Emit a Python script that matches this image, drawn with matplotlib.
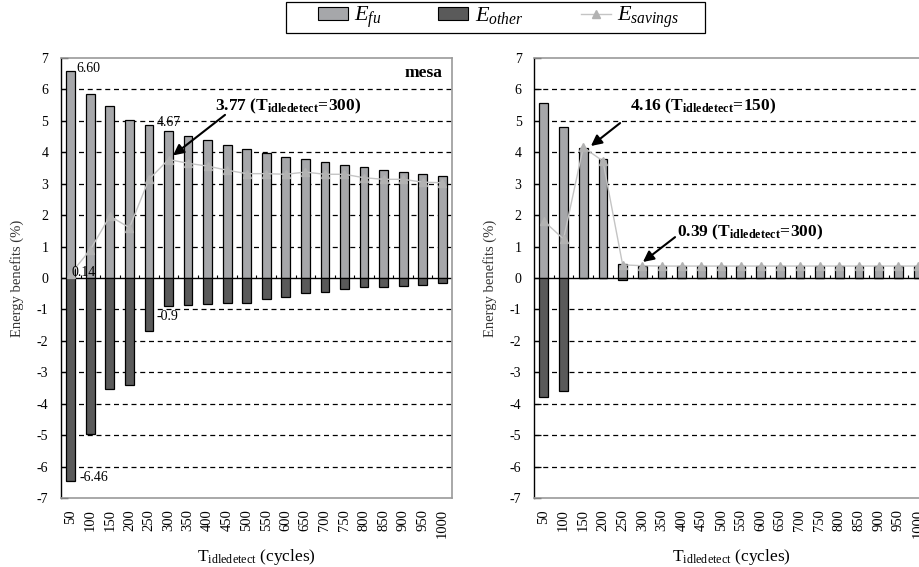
import matplotlib
matplotlib.use("Agg")
import matplotlib.pyplot as plt
from matplotlib.patches import Patch, Rectangle
from matplotlib.lines import Line2D
import numpy as np

plt.rcParams['font.family'] = ['Liberation Serif', 'DejaVu Serif']
plt.rcParams['mathtext.fontset'] = 'custom'
plt.rcParams['mathtext.rm'] = 'Liberation Serif'
plt.rcParams['mathtext.it'] = 'Liberation Serif:italic'
plt.rcParams['mathtext.bf'] = 'Liberation Serif:bold'

# Idle-detect threshold (cycles)
t_idle = [50, 100, 150, 200, 250, 300, 350, 400, 450, 500,
          550, 600, 650, 700, 750, 800, 850, 900, 950, 1000]

# mesa
mesa_fu = [6.60, 5.85, 5.48, 5.03, 4.86, 4.67, 4.52, 4.40, 4.23, 4.12,
           3.99, 3.86, 3.78, 3.69, 3.61, 3.53, 3.45, 3.36, 3.32, 3.24]
mesa_other = [-6.46, -4.95, -3.53, -3.40, -1.70, -0.90, -0.87, -0.83, -0.80, -0.80,
              -0.67, -0.59, -0.47, -0.43, -0.34, -0.30, -0.30, -0.26, -0.21, -0.17]
mesa_savings = [0.14, 0.90, 1.97, 1.60, 3.14, 3.77, 3.65, 3.56, 3.43, 3.32,
                3.32, 3.30, 3.37, 3.30, 3.30, 3.19, 3.14, 3.14, 3.05, 3.03]

# second benchmark
bench_fu = [5.56, 4.81, 4.15, 3.80, 0.46, 0.39, 0.39, 0.39, 0.39, 0.39,
            0.39, 0.39, 0.39, 0.39, 0.39, 0.39, 0.39, 0.39, 0.39, 0.39]
bench_other = [-3.78, -3.59, 0.0, 0.0, -0.05, 0.0, 0.0, 0.0, 0.0, 0.0,
               0.0, 0.0, 0.0, 0.0, 0.0, 0.0, 0.0, 0.0, 0.0, 0.0]
bench_savings = [1.81, 1.24, 4.16, 3.72, 0.42, 0.39, 0.38, 0.38, 0.38, 0.38,
                 0.38, 0.38, 0.38, 0.38, 0.38, 0.38, 0.38, 0.38, 0.38, 0.38]

y_ticks = list(range(-7, 8))

C_FU = '#a6a7aa'
C_OTHER = '#5a5a5a'
C_LINE = '#c4c4c4'
C_MARK = '#b2b2b2'
C_SPINE = '#9a9a9a'

fig = plt.figure(figsize=(9.19, 5.67), dpi=100)
ax1 = fig.add_axes([61 / 919, 1 - 498 / 567, (452 - 61) / 919, (498 - 58) / 567])
ax2 = fig.add_axes([534 / 919, 1 - 498 / 567, (928 - 534) / 919, (498 - 58) / 567])

xlabel = r'T$_{\mathrm{idledetect}}$ (cycles)'


def draw_panel(ax, fu, other, savings):
    x = np.arange(len(t_idle))
    for yv in y_ticks:
        if yv not in (0, -7, 7):
            ax.axhline(yv, color='black', lw=0.9, ls=(0, (4, 3)), zorder=1)
    ax.bar(x, fu, width=0.45, color=C_FU, edgecolor='black', lw=0.9, zorder=3)
    ax.bar(x, other, width=0.45, color=C_OTHER, edgecolor='black', lw=0.9, zorder=3)
    ax.axhline(0, color='black', lw=1.0, zorder=2.5)
    ax.vlines(x[:-1] + 0.5, 0, 0.11, color='black', lw=0.8, zorder=2.5)
    ax.plot(x, savings, color=C_LINE, lw=1.0, marker='^', ms=6,
            mfc=C_MARK, mec=C_MARK, zorder=4)
    ax.set_xlim(-0.5, len(t_idle) - 0.5)
    ax.set_ylim(-7, 7)
    ax.set_yticks(y_ticks)
    ax.set_yticklabels([str(v) for v in y_ticks], fontsize=10)
    ax.set_xticks(x)
    ax.set_xticklabels([str(v) for v in t_idle], rotation=90, fontsize=10.5)
    ax.tick_params(axis='x', length=0, pad=8)
    ax.tick_params(axis='y', direction='in', length=5, width=0.9, pad=9, color='black')
    for s in ('top', 'right', 'bottom'):
        ax.spines[s].set_color(C_SPINE)
        ax.spines[s].set_linewidth(1.2)
    ax.spines['left'].set_color('black')
    ax.spines['left'].set_linewidth(1.0)
    ax.set_ylabel('Energy benefits (%)', fontsize=10.5, color='#333333', labelpad=9)
    ax.set_xlabel(xlabel, fontsize=12.5, labelpad=6)


def arrow(ax, start, end):
    ax.annotate('', xy=end, xytext=start, zorder=6,
                arrowprops=dict(arrowstyle='-|>', color='black', lw=1.5,
                                mutation_scale=16, shrinkA=0, shrinkB=0))


draw_panel(ax1, mesa_fu, mesa_other, mesa_savings)
draw_panel(ax2, bench_fu, bench_other, bench_savings)

# mesa annotations
ax1.text(0.3, mesa_fu[0] + 0.05, f'{mesa_fu[0]:.2f}', fontsize=10, va='center', ha='left', zorder=6)
ax1.text(0.06, mesa_savings[0] + 0.05, f'{mesa_savings[0]:.2f}', fontsize=10, va='center', ha='left', zorder=6)
ax1.text(4.41, mesa_fu[5] + 0.29, f'{mesa_fu[5]:.2f}', fontsize=10, va='center', ha='left', zorder=6)
ax1.text(4.36, mesa_other[5] - 0.34, f'{mesa_other[5]:.1f}', fontsize=10, va='center', ha='left', zorder=6)
ax1.text(0.47, mesa_other[0] + 0.1, f'{mesa_other[0]:.2f}', fontsize=10, va='center', ha='left', zorder=6)
ax1.text(18.99, 6.52, 'mesa', fontsize=12.5, fontweight='bold', ha='right', va='center')
ax1.text(7.38, 5.47, r'$\mathbf{3.77\ (T_{idledetect}\!=\!300)}$', fontsize=12.5,
         ha='left', va='center', zorder=6)
arrow(ax1, (7.89, 5.19), (5.23, 3.9))

# second panel annotations
ax2.text(4.37, 5.47, r'$\mathbf{4.16\ (T_{idledetect}\!=\!150)}$', fontsize=12.5,
         ha='left', va='center', zorder=6)
arrow(ax2, (3.87, 4.93), (2.39, 4.2))
ax2.text(6.76, 1.46, r'$\mathbf{0.39\ (T_{idledetect}\!=\!300)}$', fontsize=12.5,
         ha='left', va='center', zorder=6)
arrow(ax2, (6.66, 1.30), (5.03, 0.51))

handles = [
    Patch(facecolor=C_FU, edgecolor='black', lw=0.8),
    Patch(facecolor=C_OTHER, edgecolor='black', lw=0.8),
    Line2D([], [], color=C_LINE, lw=1.0, marker='^', ms=6, mfc=C_MARK, mec=C_MARK),
]
labels = [r'$E_{fu}$', r'$E_{other}$', r'$E_{savings}$']
leg = fig.legend(handles, labels, ncol=3, loc='center', bbox_to_anchor=(0.5425, 0.969),
                 fontsize=16, frameon=False, handlelength=1.35, handleheight=0.55,
                 columnspacing=2.55, handletextpad=0.3, borderpad=0.0,
                 borderaxespad=0.0)
fig.patches.append(Rectangle((286 / 919, 1 - 33 / 567), (705 - 286) / 919, 31 / 567,
                             transform=fig.transFigure, fill=False,
                             edgecolor='black', lw=0.9))

fig.savefig('out.png', dpi=100)
